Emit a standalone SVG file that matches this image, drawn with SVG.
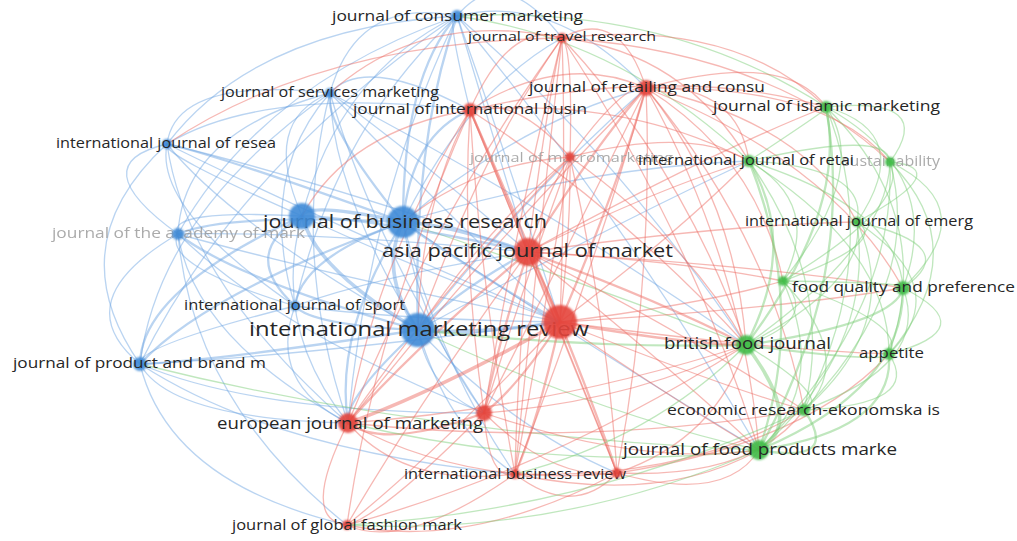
<svg xmlns="http://www.w3.org/2000/svg" width="1017" height="541" viewBox="0 0 1017 541">
<style>
#edges path{fill:none;stroke-linecap:round;stroke-width:1.3;stroke-opacity:.48}
#edges .b{stroke:#6fa6e2}
#edges .r{stroke:#ec6a62}
#edges .g{stroke:#7ccc78}
#edges .w2{stroke-width:2.3}
#edges .w3{stroke-width:3.6}
.nb{fill:#3f8ad6}
.nr{fill:#e4443c}
.ng{fill:#3dbb46}
circle{filter:url(#soft);fill-opacity:.9}
text{font-family:"Open Sans","DejaVu Sans",sans-serif;fill:#262626;text-anchor:middle}
.gr{fill:#9d9d9d;opacity:.85}
</style>
<defs>
<filter id="soft" x="-50%" y="-50%" width="200%" height="200%"><feGaussianBlur stdDeviation="1.1"/></filter>
</defs>
<rect width="1017" height="541" fill="#ffffff"/>
<g id="edges">
<path class="b" d="M457 16Q357 -4 330 93"/>
<path class="b" d="M457 16Q255 28 167 144"/>
<path class="b" d="M457 16Q262 84 178 234"/>
<path class="b w2" d="M457 16Q403 76 403 222"/>
<path class="b" d="M457 16Q339 73 302 216"/>
<path class="b" d="M457 16Q335 129 295 306"/>
<path class="b w2" d="M457 16Q412 144 418 330"/>
<path class="b" d="M457 16Q238 165 140 364"/>
<path class="b" d="M457 16Q444 6 470 110"/>
<path class="b" d="M457 16Q481 95 528 252"/>
<path class="b" d="M457 16Q501 139 560 322"/>
<path class="b" d="M457 16Q368 202 348 423"/>
<path class="b" d="M457 16Q502 -39 562 38"/>
<path class="b" d="M457 16Q554 -8 646 88"/>
<path class="g" d="M457 16Q667 4 826 107"/>
<path class="g" d="M457 16Q619 38 749 161"/>
<path class="b" d="M457 16Q617 153 746 345"/>
<path class="b" d="M457 16Q625 219 759 450"/>
<path class="b" d="M330 93Q176 76 167 144"/>
<path class="b" d="M330 93Q183 132 178 234"/>
<path class="b w2" d="M330 93Q323 124 403 222"/>
<path class="b" d="M330 93Q260 121 302 216"/>
<path class="b" d="M330 93Q256 177 295 306"/>
<path class="b" d="M330 93Q333 192 418 330"/>
<path class="b" d="M330 93Q159 213 140 364"/>
<path class="b" d="M330 93Q365 54 470 110"/>
<path class="b" d="M330 93Q401 143 528 252"/>
<path class="b" d="M330 93Q421 187 560 322"/>
<path class="b" d="M330 93Q289 250 348 423"/>
<path class="b" d="M330 93Q374 244 484 413"/>
<path class="b" d="M330 93Q538 201 746 345"/>
<path class="b" d="M167 144Q81 164 178 234"/>
<path class="b w2" d="M167 144Q221 156 403 222"/>
<path class="b" d="M167 144Q158 153 302 216"/>
<path class="b" d="M167 144Q154 209 295 306"/>
<path class="b" d="M167 144Q231 224 418 330"/>
<path class="b" d="M167 144Q57 245 140 364"/>
<path class="b" d="M167 144Q299 175 528 252"/>
<path class="b" d="M167 144Q319 219 560 322"/>
<path class="b" d="M167 144Q187 282 348 423"/>
<path class="b" d="M167 144Q263 86 470 110"/>
<path class="b w2" d="M178 234Q228 213 403 222"/>
<path class="b" d="M178 234Q165 209 302 216"/>
<path class="b" d="M178 234Q161 265 295 306"/>
<path class="b w2" d="M178 234Q238 280 418 330"/>
<path class="b" d="M178 234Q64 301 140 364"/>
<path class="b" d="M178 234Q306 231 528 252"/>
<path class="b" d="M178 234Q326 275 560 322"/>
<path class="b" d="M178 234Q194 338 348 423"/>
<path class="b" d="M178 234Q279 332 484 413"/>
<path class="b" d="M178 234Q193 402 347 525"/>
<path class="b w3" d="M403 222Q306 201 302 216"/>
<path class="b w2" d="M403 222Q301 258 295 306"/>
<path class="b w3" d="M403 222Q378 273 418 330"/>
<path class="b w2" d="M403 222Q204 294 140 364"/>
<path class="b w3" d="M403 222Q447 224 528 252"/>
<path class="b w2" d="M403 222Q467 268 560 322"/>
<path class="b w2" d="M403 222Q334 331 348 423"/>
<path class="b" d="M403 222Q419 324 484 413"/>
<path class="b w2" d="M403 222Q411 135 470 110"/>
<path class="b" d="M403 222Q521 121 646 88"/>
<path class="g" d="M403 222Q583 282 746 345"/>
<path class="b" d="M403 222Q591 348 759 450"/>
<path class="b" d="M403 222Q439 363 515 474"/>
<path class="b" d="M403 222Q468 90 562 38"/>
<path class="b" d="M403 222Q585 167 749 161"/>
<path class="b w2" d="M302 216Q238 254 295 306"/>
<path class="b w3" d="M302 216Q315 269 418 330"/>
<path class="b w2" d="M302 216Q141 290 140 364"/>
<path class="b w2" d="M302 216Q384 220 528 252"/>
<path class="b" d="M302 216Q404 264 560 322"/>
<path class="b" d="M302 216Q271 327 348 423"/>
<path class="b w2" d="M295 306Q311 325 418 330"/>
<path class="b" d="M295 306Q137 346 140 364"/>
<path class="b" d="M295 306Q399 320 560 322"/>
<path class="b" d="M295 306Q267 383 348 423"/>
<path class="b" d="M295 306Q379 276 528 252"/>
<path class="b w2" d="M418 330Q214 361 140 364"/>
<path class="b w2" d="M418 330Q456 291 528 252"/>
<path class="b w3" d="M418 330Q476 335 560 322"/>
<path class="b w2" d="M418 330Q344 398 348 423"/>
<path class="b" d="M418 330Q429 392 484 413"/>
<path class="b" d="M418 330Q448 430 515 474"/>
<path class="b" d="M418 330Q512 429 617 473"/>
<path class="g w2" d="M418 330Q593 349 746 345"/>
<path class="g" d="M418 330Q601 415 759 450"/>
<path class="b" d="M418 330Q530 189 646 88"/>
<path class="b" d="M418 330Q594 234 749 161"/>
<path class="b" d="M140 364Q170 419 348 423"/>
<path class="b" d="M140 364Q169 483 347 525"/>
<path class="b" d="M140 364Q255 413 484 413"/>
<path class="b" d="M140 364Q303 356 560 322"/>
<path class="g" d="M140 364Q427 436 759 450"/>
<path class="b" d="M140 364Q274 451 515 474"/>
<path class="r" d="M562 38Q620 6 646 88"/>
<path class="r" d="M562 38Q510 20 470 110"/>
<path class="r" d="M562 38Q573 49 570 157"/>
<path class="r" d="M562 38Q546 109 528 252"/>
<path class="r" d="M562 38Q566 153 560 322"/>
<path class="r" d="M562 38Q434 216 348 423"/>
<path class="r" d="M562 38Q519 209 484 413"/>
<path class="r" d="M562 38Q538 248 515 474"/>
<path class="r" d="M562 38Q733 18 826 107"/>
<path class="r" d="M562 38Q684 52 749 161"/>
<path class="r" d="M562 38Q683 167 746 345"/>
<path class="r" d="M562 38Q691 233 759 450"/>
<path class="r" d="M562 38Q478 158 418 330"/>
<path class="r" d="M562 38Q423 9 330 93"/>
<path class="r" d="M562 38Q321 41 167 144"/>
<path class="r" d="M562 38Q773 53 890 162"/>
<path class="r" d="M646 88Q563 51 470 110"/>
<path class="r" d="M646 88Q625 81 570 157"/>
<path class="r w2" d="M646 88Q599 140 528 252"/>
<path class="r w2" d="M646 88Q619 184 560 322"/>
<path class="r" d="M646 88Q486 247 348 423"/>
<path class="r" d="M646 88Q571 241 484 413"/>
<path class="r" d="M646 88Q591 279 515 474"/>
<path class="r" d="M646 88Q654 278 617 473"/>
<path class="r" d="M646 88Q785 49 826 107"/>
<path class="r" d="M646 88Q737 83 749 161"/>
<path class="r" d="M646 88Q825 84 890 162"/>
<path class="r" d="M646 88Q804 121 857 222"/>
<path class="r" d="M646 88Q735 198 746 345"/>
<path class="r" d="M646 88Q743 264 759 450"/>
<path class="r" d="M646 88Q771 239 804 410"/>
<path class="r" d="M646 88Q758 158 783 281"/>
<path class="r" d="M646 88Q833 163 903 288"/>
<path class="r" d="M470 110Q515 94 570 157"/>
<path class="r w2" d="M470 110Q489 154 528 252"/>
<path class="r w2" d="M470 110Q509 198 560 322"/>
<path class="r" d="M470 110Q376 261 348 423"/>
<path class="r" d="M470 110Q461 254 484 413"/>
<path class="r" d="M470 110Q481 293 515 474"/>
<path class="r" d="M470 110Q544 292 617 473"/>
<path class="r" d="M470 110Q376 324 347 525"/>
<path class="r" d="M470 110Q627 97 749 161"/>
<path class="r" d="M470 110Q625 212 746 345"/>
<path class="r" d="M470 110Q420 203 418 330"/>
<path class="r" d="M470 110Q348 131 302 216"/>
<path class="r" d="M470 110Q675 63 826 107"/>
<path class="r" d="M570 157Q551 183 528 252"/>
<path class="r" d="M570 157Q571 227 560 322"/>
<path class="r" d="M570 157Q439 290 348 423"/>
<path class="r" d="M570 157Q524 284 484 413"/>
<path class="r" d="M570 157Q543 322 515 474"/>
<path class="r" d="M570 157Q607 321 617 473"/>
<path class="r" d="M570 157Q689 126 749 161"/>
<path class="r" d="M570 157Q688 241 746 345"/>
<path class="r" d="M570 157Q473 164 403 222"/>
<path class="r" d="M570 157Q483 232 418 330"/>
<path class="r w3" d="M528 252Q545 286 560 322"/>
<path class="r w2" d="M528 252Q413 349 348 423"/>
<path class="r w2" d="M528 252Q498 343 484 413"/>
<path class="r" d="M528 252Q517 381 515 474"/>
<path class="r" d="M528 252Q581 381 617 473"/>
<path class="r" d="M528 252Q412 413 347 525"/>
<path class="r w2" d="M528 252Q661 301 746 345"/>
<path class="r" d="M528 252Q669 366 759 450"/>
<path class="r" d="M528 252Q663 186 749 161"/>
<path class="r" d="M528 252Q684 261 783 281"/>
<path class="r" d="M528 252Q698 341 804 410"/>
<path class="r" d="M528 252Q711 152 826 107"/>
<path class="r" d="M528 252Q731 224 857 222"/>
<path class="r" d="M528 252Q759 265 903 288"/>
<path class="r w3" d="M560 322Q433 393 348 423"/>
<path class="r w2" d="M560 322Q518 387 484 413"/>
<path class="r w2" d="M560 322Q537 425 515 474"/>
<path class="r w2" d="M560 322Q601 424 617 473"/>
<path class="r" d="M560 322Q432 457 347 525"/>
<path class="r w2" d="M560 322Q681 344 746 345"/>
<path class="r" d="M560 322Q689 410 759 450"/>
<path class="r" d="M560 322Q718 385 804 410"/>
<path class="r" d="M560 322Q683 229 749 161"/>
<path class="r" d="M560 322Q704 304 783 281"/>
<path class="r" d="M560 322Q779 309 903 288"/>
<path class="r" d="M560 322Q771 350 889 354"/>
<path class="r w2" d="M348 423Q385 450 484 413"/>
<path class="r" d="M348 423Q404 488 515 474"/>
<path class="r" d="M348 423Q468 488 617 473"/>
<path class="r" d="M348 423Q299 520 347 525"/>
<path class="g" d="M348 423Q557 473 759 450"/>
<path class="r" d="M348 423Q549 408 746 345"/>
<path class="r" d="M348 423Q585 448 804 410"/>
<path class="r" d="M484 413Q489 482 515 474"/>
<path class="r" d="M484 413Q553 481 617 473"/>
<path class="r" d="M484 413Q384 514 347 525"/>
<path class="r" d="M484 413Q642 467 759 450"/>
<path class="r" d="M484 413Q634 401 746 345"/>
<path class="r" d="M515 474Q573 519 617 473"/>
<path class="r" d="M515 474Q404 552 347 525"/>
<path class="r" d="M515 474Q661 505 759 450"/>
<path class="g" d="M515 474Q653 439 746 345"/>
<path class="r" d="M515 474Q689 480 804 410"/>
<path class="r" d="M617 473Q468 551 347 525"/>
<path class="r" d="M617 473Q725 504 759 450"/>
<path class="r" d="M617 473Q717 439 746 345"/>
<path class="r" d="M617 473Q753 479 804 410"/>
<path class="r" d="M617 473Q806 444 889 354"/>
<path class="g" d="M347 525Q556 537 759 450"/>
<path class="g" d="M347 525Q584 512 804 410"/>
<path class="r" d="M347 525Q548 471 746 345"/>
<path class="g" d="M826 107Q849 95 749 161"/>
<path class="g" d="M826 107Q938 96 890 162"/>
<path class="g" d="M826 107Q917 133 857 222"/>
<path class="g" d="M826 107Q871 170 783 281"/>
<path class="g" d="M826 107Q946 174 903 288"/>
<path class="g w2" d="M826 107Q848 210 746 345"/>
<path class="g" d="M826 107Q937 216 889 354"/>
<path class="g" d="M826 107Q884 251 804 410"/>
<path class="g w2" d="M826 107Q856 276 759 450"/>
<path class="g" d="M749 161Q889 129 890 162"/>
<path class="g" d="M749 161Q869 167 857 222"/>
<path class="g" d="M749 161Q823 204 783 281"/>
<path class="g" d="M749 161Q898 208 903 288"/>
<path class="g w2" d="M749 161Q799 244 746 345"/>
<path class="g" d="M749 161Q889 249 889 354"/>
<path class="g" d="M749 161Q836 284 804 410"/>
<path class="g w2" d="M749 161Q808 309 759 450"/>
<path class="g" d="M890 162Q957 168 857 222"/>
<path class="g" d="M890 162Q911 204 783 281"/>
<path class="g" d="M890 162Q986 209 903 288"/>
<path class="g" d="M890 162Q888 244 746 345"/>
<path class="g" d="M890 162Q977 250 889 354"/>
<path class="g" d="M890 162Q924 285 804 410"/>
<path class="g" d="M890 162Q896 310 759 450"/>
<path class="g" d="M857 222Q890 242 783 281"/>
<path class="g" d="M857 222Q965 246 903 288"/>
<path class="g" d="M857 222Q867 282 746 345"/>
<path class="g" d="M857 222Q956 288 889 354"/>
<path class="g" d="M857 222Q903 323 804 410"/>
<path class="g" d="M857 222Q875 348 759 450"/>
<path class="g" d="M783 281Q919 283 903 288"/>
<path class="g" d="M783 281Q821 319 746 345"/>
<path class="g" d="M783 281Q910 324 889 354"/>
<path class="g" d="M783 281Q857 359 804 410"/>
<path class="g" d="M783 281Q829 384 759 450"/>
<path class="g w2" d="M903 288Q896 323 746 345"/>
<path class="g" d="M903 288Q985 329 889 354"/>
<path class="g" d="M903 288Q932 364 804 410"/>
<path class="g w2" d="M903 288Q904 389 759 450"/>
<path class="g w2" d="M746 345Q887 364 889 354"/>
<path class="g" d="M746 345Q834 399 804 410"/>
<path class="g w3" d="M746 345Q806 424 759 450"/>
<path class="g" d="M889 354Q923 405 804 410"/>
<path class="g w2" d="M889 354Q895 430 759 450"/>
<path class="g w2" d="M804 410Q842 465 759 450"/>
</g>
<g id="n-academy"><text class="gr" x="178.5" y="238" font-size="14" textLength="253" lengthAdjust="spacingAndGlyphs">journal of the academy of mark</text><circle class="nb" cx="178" cy="234" r="6"/></g>
<g id="n-macromarketing"><text class="gr" x="571.5" y="162" font-size="13.5" textLength="203" lengthAdjust="spacingAndGlyphs">journal of macromarketing</text><circle class="nr" cx="570" cy="157" r="5"/></g>
<g id="n-sustainability"><text class="gr" x="891" y="166" font-size="14" textLength="98" lengthAdjust="spacingAndGlyphs">sustainability</text><circle class="ng" cx="890" cy="162" r="5"/></g>
<g id="n-consumer"><circle class="nb" cx="457" cy="16" r="6"/><text x="457.5" y="21" font-size="15" textLength="251" lengthAdjust="spacingAndGlyphs">journal of consumer marketing</text></g>
<g id="n-services"><circle class="nb" cx="330" cy="93" r="5"/><text x="330" y="97" font-size="14" textLength="218" lengthAdjust="spacingAndGlyphs">journal of services marketing</text></g>
<g id="n-resea"><circle class="nb" cx="167" cy="144" r="5"/><text x="166" y="148" font-size="14" textLength="220" lengthAdjust="spacingAndGlyphs">international journal of resea</text></g>
<g id="n-jbr"><circle class="nb" cx="403" cy="222" r="16"/><text x="405" y="228" font-size="18.5" textLength="284" lengthAdjust="spacingAndGlyphs">journal of business research</text></g>
<g id="n-blue-unlabeled"><circle class="nb" cx="302" cy="216" r="13"/></g>
<g id="n-sport"><circle class="nb" cx="295" cy="306" r="5"/><text x="294.5" y="310" font-size="14" textLength="221" lengthAdjust="spacingAndGlyphs">international journal of sport</text></g>
<g id="n-imr"><circle class="nb" cx="418" cy="330" r="17"/><text x="419" y="336" font-size="19.5" textLength="340" lengthAdjust="spacingAndGlyphs">international marketing review</text></g>
<g id="n-product"><circle class="nb" cx="140" cy="364" r="7"/><text x="139.5" y="368" font-size="14.5" textLength="253" lengthAdjust="spacingAndGlyphs">journal of product and brand m</text></g>
<g id="n-travel"><circle class="nr" cx="562" cy="38" r="5"/><text x="562" y="41" font-size="13.5" textLength="188" lengthAdjust="spacingAndGlyphs">journal of travel research</text></g>
<g id="n-retailing"><circle class="nr" cx="646" cy="88" r="8"/><text x="647" y="92" font-size="14.5" textLength="236" lengthAdjust="spacingAndGlyphs">journal of retailing and consu</text></g>
<g id="n-intbusin"><circle class="nr" cx="470" cy="110" r="7"/><text x="470" y="114" font-size="14.5" textLength="234" lengthAdjust="spacingAndGlyphs">journal of international busin</text></g>
<g id="n-asiapacific"><circle class="nr" cx="528" cy="252" r="14"/><text x="527.5" y="257" font-size="18.5" textLength="291" lengthAdjust="spacingAndGlyphs">asia pacific journal of market</text></g>
<g id="n-red-unlabeled-1"><circle class="nr" cx="560" cy="322" r="17"/></g>
<g id="n-european"><circle class="nr" cx="348" cy="423" r="10"/><text x="350" y="429" font-size="15.5" textLength="266" lengthAdjust="spacingAndGlyphs">european journal of marketing</text></g>
<g id="n-red-unlabeled-2"><circle class="nr" cx="484" cy="413" r="8"/></g>
<g id="n-ibr"><circle class="nr" cx="515" cy="474" r="5"/><text x="515" y="479" font-size="14" textLength="222" lengthAdjust="spacingAndGlyphs">international business review</text></g>
<g id="n-red-unlabeled-3"><circle class="nr" cx="617" cy="473" r="5"/></g>
<g id="n-fashion"><circle class="nr" cx="347" cy="525" r="5"/><text x="347" y="530" font-size="14" textLength="230" lengthAdjust="spacingAndGlyphs">journal of global fashion mark</text></g>
<g id="n-islamic"><circle class="ng" cx="826" cy="107" r="6"/><text x="826.5" y="111" font-size="14.5" textLength="227" lengthAdjust="spacingAndGlyphs">journal of islamic marketing</text></g>
<g id="n-retai"><circle class="ng" cx="749" cy="161" r="6"/><text x="746" y="165" font-size="14.5" textLength="216" lengthAdjust="spacingAndGlyphs">international journal of retai</text></g>
<g id="n-emerg"><circle class="ng" cx="857" cy="222" r="5"/><text x="859" y="226" font-size="14" textLength="228" lengthAdjust="spacingAndGlyphs">international journal of emerg</text></g>
<g id="n-green-unlabeled"><circle class="ng" cx="783" cy="281" r="5"/></g>
<g id="n-foodquality"><circle class="ng" cx="903" cy="288" r="7"/><text x="903.5" y="292" font-size="15" textLength="223" lengthAdjust="spacingAndGlyphs">food quality and preference</text></g>
<g id="n-british"><circle class="ng" cx="746" cy="345" r="10"/><text x="747.5" y="349" font-size="15.5" textLength="167" lengthAdjust="spacingAndGlyphs">british food journal</text></g>
<g id="n-appetite"><circle class="ng" cx="889" cy="354" r="6"/><text x="891.5" y="358" font-size="14" textLength="65" lengthAdjust="spacingAndGlyphs">appetite</text></g>
<g id="n-economic"><circle class="ng" cx="804" cy="410" r="6"/><text x="803.5" y="415" font-size="14" textLength="273" lengthAdjust="spacingAndGlyphs">economic research-ekonomska is</text></g>
<g id="n-foodproducts"><circle class="ng" cx="759" cy="450" r="10"/><text x="760" y="455" font-size="16" textLength="274" lengthAdjust="spacingAndGlyphs">journal of food products marke</text></g>
</svg>
